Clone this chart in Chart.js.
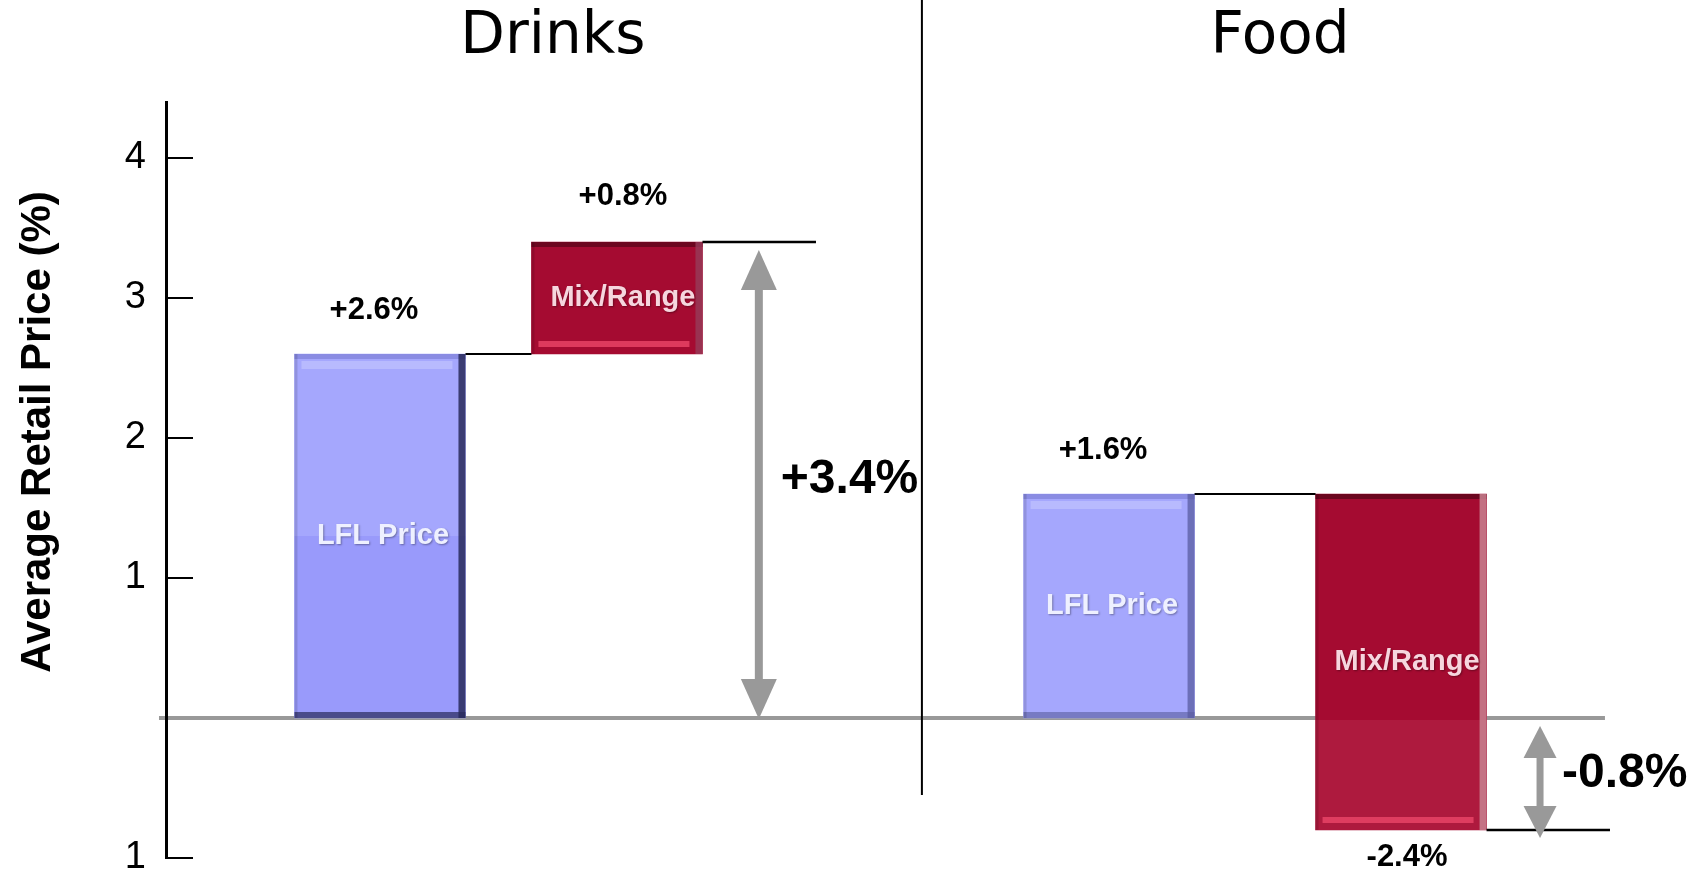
<!DOCTYPE html>
<html>
<head>
<meta charset="utf-8">
<script src="https://cdn.jsdelivr.net/npm/chart.js@4.4.1/dist/chart.umd.min.js"></script>
<style>
  html, body { margin: 0; padding: 0; background: #ffffff; }
  canvas { display: block; }
</style>
</head>
<body>
<canvas id="chart" width="1701" height="871"></canvas>
<script>
// ---- Data: price change components per category (percentage points) ----
const groups = ['Drinks', 'Food'];
const components = ['LFL Price', 'Mix/Range'];
const lflPrice = [2.6, 1.6];
const mixRange = [0.8, -2.4];
const totalChange = [3.4, -0.8];
const lflLabels = ['+2.6%', '+1.6%'];
const mixLabels = ['+0.8%', '-2.4%'];
const totalLabels = ['+3.4%', '-0.8%'];
const yTickValues = [-1, 1, 2, 3, 4];
const yTickLabels = ['1', '1', '2', '3', '4'];
const yTitle = 'Average Retail Price (%)';

// ---- Layout: horizontal placement on a 0-100 x scale ----
const LAYOUT = {
  lflX: [14.04, 61.88],
  mixX: [29.59, 81.04],
  arrowX: [38.9, 90.16],
  extendTo: [42.65, 94.75],
  titleX: [25.39, 73.1],
  dividerX: 49.6,
  zeroFrom: -0.46,
  zeroTo: 94.42
};

const FONT = '"Liberation Sans", Arial, Helvetica, sans-serif';
const GREY = '#999999';

const lflData = groups.map((g, i) => ({ x: LAYOUT.lflX[i], y: [0, lflPrice[i]] }));
const mixData = groups.map((g, i) => ({ x: LAYOUT.mixX[i], y: [lflPrice[i], lflPrice[i] + mixRange[i]] }));

// Bevel styling for each component bar
const BEVEL = [
  { // LFL Price
    rightShade: ['rgba(40,42,90,0.85)', 'rgba(90,92,160,0.75)'],
    bottomShade: ['rgba(40,42,90,0.7)', 'rgba(100,102,170,0.7)'],
    topEdge: 'rgba(120,122,210,0.6)',
    topBand: 'rgba(200,202,255,0.55)',
    lowerTone: ['rgba(90,90,245,0.35)', null]
  },
  { // Mix/Range
    rightShade: ['rgba(150,60,90,0.8)', 'rgba(200,130,145,0.85)'],
    bottomShade: [null, null],
    topEdge: 'rgba(90,5,25,0.75)',
    bottomBand: 'rgba(235,70,105,0.8)',
    belowZeroTone: 'rgba(210,80,110,0.22)'
  }
];

function drawText(ctx, str, x, y, font, color, align, baseline) {
  ctx.save();
  ctx.font = font;
  ctx.fillStyle = color;
  ctx.textAlign = align || 'center';
  ctx.textBaseline = baseline || 'middle';
  ctx.fillText(str, x, y);
  ctx.restore();
}

function drawLine(ctx, x1, y1, x2, y2, color, width) {
  ctx.save();
  ctx.strokeStyle = color;
  ctx.lineWidth = width;
  ctx.beginPath();
  ctx.moveTo(x1, y1);
  ctx.lineTo(x2, y2);
  ctx.stroke();
  ctx.restore();
}

function drawDoubleArrow(ctx, x, yTop, yBottom, headW, headH, shaft, color) {
  ctx.save();
  ctx.fillStyle = color;
  ctx.fillRect(x - shaft / 2, yTop + headH - 1, shaft, (yBottom - yTop) - 2 * headH + 2);
  ctx.beginPath();
  ctx.moveTo(x, yTop);
  ctx.lineTo(x - headW / 2, yTop + headH);
  ctx.lineTo(x + headW / 2, yTop + headH);
  ctx.closePath();
  ctx.fill();
  ctx.beginPath();
  ctx.moveTo(x, yBottom);
  ctx.lineTo(x - headW / 2, yBottom - headH);
  ctx.lineTo(x + headW / 2, yBottom - headH);
  ctx.closePath();
  ctx.fill();
  ctx.restore();
}

function barBox(el) {
  const p = el.getProps(['x', 'y', 'base', 'width'], true);
  const left = p.x - p.width / 2, right = p.x + p.width / 2;
  const top = Math.min(p.y, p.base), bottom = Math.max(p.y, p.base);
  return { left, right, top, bottom, cx: p.x, cy: (top + bottom) / 2, w: p.width, h: bottom - top };
}

const decorPlugin = {
  id: 'decor',
  beforeDraw(chart) {
    const { ctx, scales: { x, y } } = chart;
    // zero baseline
    drawLine(ctx, x.getPixelForValue(LAYOUT.zeroFrom), y.getPixelForValue(0),
             x.getPixelForValue(LAYOUT.zeroTo), y.getPixelForValue(0), GREY, 4);
    // divider between the two categories
    drawLine(ctx, x.getPixelForValue(LAYOUT.dividerX), 0,
             x.getPixelForValue(LAYOUT.dividerX), 795, '#000000', 2);
  },
  afterDatasetsDraw(chart) {
    const { ctx, scales: { x, y } } = chart;
    const zeroY = y.getPixelForValue(0);

    // bevel shading on every bar
    chart.data.datasets.forEach((ds, di) => {
      const meta = chart.getDatasetMeta(di);
      const st = BEVEL[di];
      meta.data.forEach((el, i) => {
        const b = barBox(el);
        ctx.save();
        if (st.lowerTone && st.lowerTone[i]) {
          ctx.fillStyle = st.lowerTone[i];
          ctx.globalAlpha = 0.45;
          ctx.fillRect(b.left, b.cy, b.w, b.bottom - b.cy);
          ctx.globalAlpha = 1;
        }
        if (st.belowZeroTone && b.bottom > zeroY + 2) {
          ctx.fillStyle = st.belowZeroTone;
          ctx.fillRect(b.left, zeroY + 2, b.w, b.bottom - zeroY - 2);
        }
        ctx.fillStyle = st.topEdge;
        ctx.fillRect(b.left, b.top, b.w, 5);
        if (st.topBand) {
          ctx.fillStyle = st.topBand;
          ctx.fillRect(b.left + 7, b.top + 7, b.w - 20, 8);
        }
        if (st.bottomBand) {
          ctx.fillStyle = st.bottomBand;
          ctx.fillRect(b.left + 7, b.bottom - 13, b.w - 20, 6);
        }
        if (st.bottomShade[i]) {
          ctx.fillStyle = st.bottomShade[i];
          ctx.fillRect(b.left, b.bottom - 6, b.w, 6);
        }
        ctx.fillStyle = st.rightShade[i];
        ctx.fillRect(b.right - 7, b.top, 7, b.h);
        ctx.fillStyle = 'rgba(0,0,0,0.12)';
        ctx.fillRect(b.left, b.top, 3, b.h);
        ctx.restore();
      });
    });

    const lflMeta = chart.getDatasetMeta(0).data;
    const mixMeta = chart.getDatasetMeta(1).data;

    groups.forEach((g, i) => {
      const lb = barBox(lflMeta[i]);
      const mb = barBox(mixMeta[i]);
      const lflY = y.getPixelForValue(lflPrice[i]);
      const totY = y.getPixelForValue(totalChange[i]);

      // connector from the LFL bar to the Mix/Range bar
      drawLine(ctx, lb.right, lflY, mb.left, lflY, '#000000', 2);
      // end level carried out to the total arrow
      drawLine(ctx, mb.right, totY, x.getPixelForValue(LAYOUT.extendTo[i]), totY, '#000000', 2.5);

      // total change arrow
      const ax = x.getPixelForValue(LAYOUT.arrowX[i]);
      const top = Math.min(totY, zeroY) + 8;
      const bottom = Math.max(totY, zeroY) + (totalChange[i] < 0 ? 8 : 1);
      const big = (bottom - top) > 200;
      drawDoubleArrow(ctx, ax, top, bottom, big ? 36 : 33, big ? 40 : 32, big ? 8 : 7, GREY);
      drawText(ctx, totalLabels[i], ax + 22, y.getPixelForValue(totalChange[i] / 2),
               'bold 48px ' + FONT, '#000000', 'left', 'middle');

      // value labels
      drawText(ctx, lflLabels[i], lb.cx - 6, lb.top - 44, 'bold 31px ' + FONT, '#000000');
      const mixUp = mixRange[i] >= 0;
      drawText(ctx, mixLabels[i], mb.cx + 6, mixUp ? mb.top - 46 : mb.bottom + 27,
               'bold 31px ' + FONT, '#000000');

      // labels inside the bars
      ctx.save();
      ctx.shadowColor = 'rgba(0,0,0,0.35)';
      ctx.shadowBlur = 2;
      ctx.shadowOffsetX = 1;
      ctx.shadowOffsetY = 1;
      drawText(ctx, components[0], lb.cx + 3, lb.cy, 'bold 29px ' + FONT, '#eef0ff');
      drawText(ctx, components[1], mb.cx + 6, mb.cy, 'bold 29px ' + FONT, '#f6d6de');
      ctx.restore();

      // category titles
      drawText(ctx, g, x.getPixelForValue(LAYOUT.titleX[i]), 53,
               '58px "DejaVu Sans", Verdana, sans-serif', '#000000', 'center', 'alphabetic');
    });

    // y tick marks pointing into the plot
    const axisX = y.right;
    yTickValues.forEach(v => {
      const ty = y.getPixelForValue(v);
      drawLine(ctx, axisX, ty, axisX + 27, ty, '#000000', 2);
    });

    // y axis title
    ctx.save();
    ctx.translate(38, 432);
    ctx.rotate(-Math.PI / 2);
    drawText(ctx, yTitle, 0, 0, 'bold 42px ' + FONT, '#000000', 'center', 'middle');
    ctx.restore();
  }
};

new Chart(document.getElementById('chart'), {
  type: 'bar',
  data: {
    datasets: [
      { label: components[0], data: lflData, backgroundColor: '#a5a7fd',
        barThickness: 171, grouped: false, borderWidth: 0 },
      { label: components[1], data: mixData, backgroundColor: '#a50b31',
        barThickness: 171, grouped: false, borderWidth: 0 }
    ]
  },
  options: {
    responsive: false,
    animation: false,
    devicePixelRatio: 1,
    layout: { padding: { top: 102, bottom: 13, left: 0, right: 11 } },
    scales: {
      x: { type: 'linear', min: 0, max: 100, offset: false, display: false },
      y: {
        type: 'linear',
        min: -1,
        max: 4.4,
        afterFit(scale) {
          scale.width = 166;
          scale.paddingTop = 0;
          scale.paddingBottom = 0;
        },
        afterBuildTicks(scale) { scale.ticks = yTickValues.map(v => ({ value: v })); },
        ticks: {
          autoSkip: false,
          padding: 20,
          color: '#000000',
          font: { family: FONT, size: 38, lineHeight: 0.5 },
          callback(value) {
            const i = yTickValues.indexOf(value);
            return i < 0 ? '' : yTickLabels[i];
          }
        },
        grid: { display: false, drawTicks: false },
        border: { display: true, color: '#000000', width: 3 }
      }
    },
    plugins: {
      legend: { display: false },
      tooltip: { enabled: false }
    }
  },
  plugins: [decorPlugin]
});
</script>
</body>
</html>
